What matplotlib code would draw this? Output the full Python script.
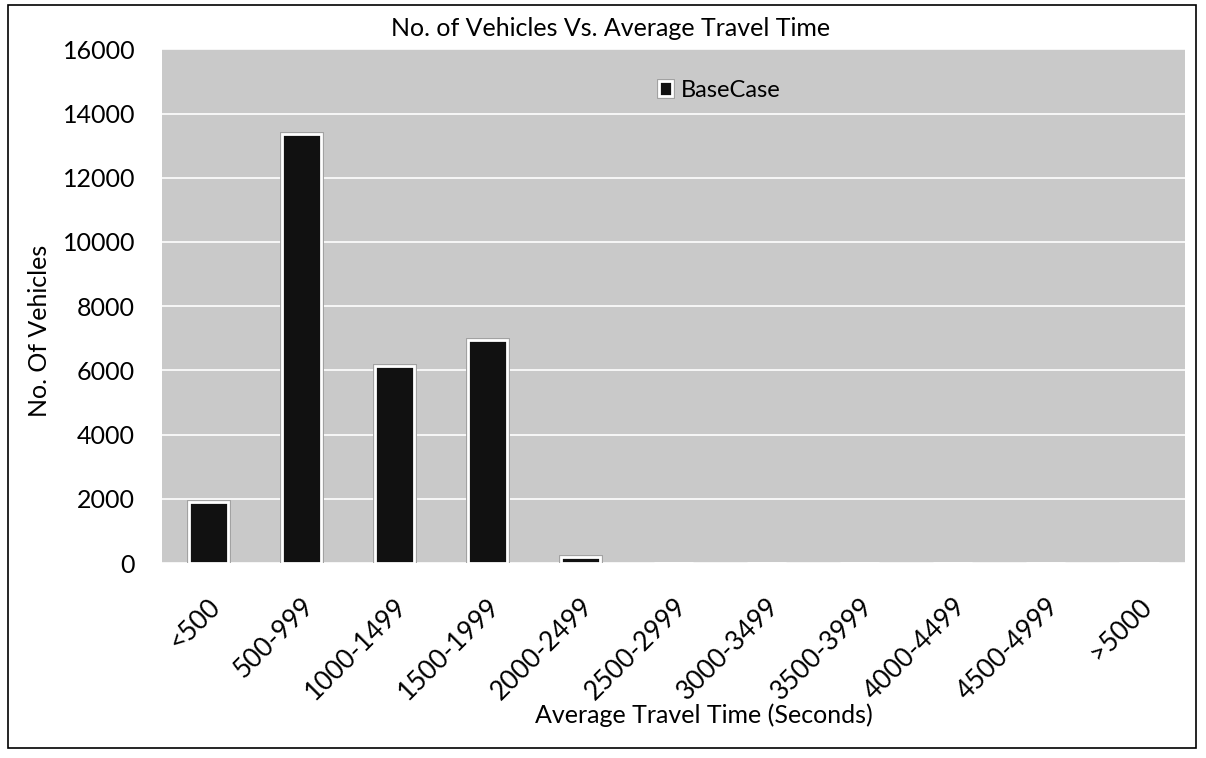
import numpy as np
import matplotlib.pyplot as plt
import matplotlib.patheffects as pe
from matplotlib.patches import Rectangle

plt.rcParams['font.family'] = ['Lato', 'DejaVu Sans']

# Travel time bins and vehicle counts
bins = ["<500", "500-999", "1000-1499", "1500-1999", "2000-2499", "2500-2999",
        "3000-3499", "3500-3999", "4000-4499", "4500-4999", ">5000"]
base_case = [1900, 13350, 6150, 6950, 180, 0, 0, 0, 0, 0, 0]
y_ticks = [0, 2000, 4000, 6000, 8000, 10000, 12000, 14000, 16000]

fig = plt.figure(figsize=(12.06, 7.58), dpi=100)
ax = fig.add_axes([0.134, 0.257, 0.849, 0.678])

# gray plot area with white gridlines
ax.set_facecolor("#c9c9c9")
ax.grid(axis="y", color="white", linewidth=1.2)
ax.set_axisbelow(True)

x = np.arange(len(bins))
bars = ax.bar(x, base_case, width=0.42, color="#111111", edgecolor="white",
              linewidth=2, label="BaseCase", zorder=3)
# faint gray halo around the non-empty bars
for b, v in zip(bars, base_case):
    if v > 0:
        b.set_path_effects([pe.Stroke(linewidth=3.5, foreground="#a0a0a0"), pe.Normal()])

ax.set_xlim(-0.5, len(bins) - 0.5)
ax.set_ylim(0, 16000)
ax.set_yticks(y_ticks)
ax.set_xticks(x)
ax.set_xticklabels(bins, rotation=45, ha="right", rotation_mode="anchor")
ax.tick_params(axis="y", length=0, labelsize=18, pad=19)
ax.tick_params(axis="x", length=0, labelsize=19, pad=22)
for s in ax.spines.values():
    s.set_visible(False)

fig.text(0.506, 0.963, "No. of Vehicles Vs. Average Travel Time", fontsize=18,
         ha="center", va="center")
ax.set_xlabel("Average Travel Time (Seconds)", fontsize=18)
ax.xaxis.set_label_coords(0.53, -0.272)
ax.set_ylabel("No. Of Vehicles", fontsize=18)
ax.yaxis.set_label_coords(-0.108, 0.453)

ax.legend(loc="upper center", bbox_to_anchor=(0.545, 0.982), frameon=False,
          fontsize=17, handlelength=0.55, handleheight=0.55, handletextpad=0.4)

# outer frame around the chart
fig.patches.append(Rectangle((0.007, 0.013), 0.985, 0.98, transform=fig.transFigure,
                             fill=False, edgecolor="black", linewidth=1.2))

fig.savefig("out.png", dpi=100)
